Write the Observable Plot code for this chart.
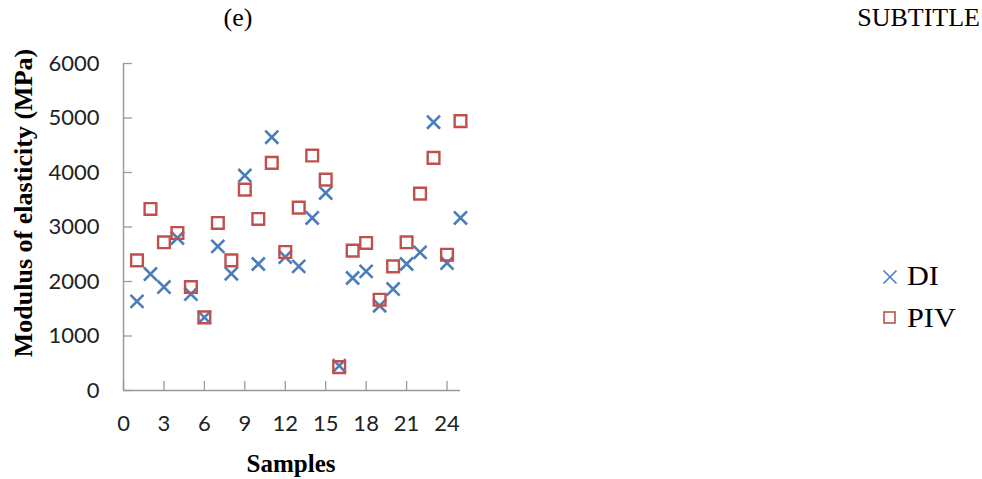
<!DOCTYPE html>
<html>
<head>
<meta charset="utf-8">
<script src="https://cdn.jsdelivr.net/npm/d3@7"></script>
<script src="https://cdn.jsdelivr.net/npm/@observablehq/plot@0.6"></script>
<style>
  html, body { margin: 0; padding: 0; background: #fff; }
  #wrap { position: relative; width: 982px; height: 479px; overflow: hidden; }
  #header { position: relative; height: 34px; }
  .ttl { position: absolute; font-family: "Liberation Serif", serif; font-size: 26px; line-height: 26px; color: #000; white-space: nowrap; }
  .lbl { position: absolute; font-family: "Liberation Serif", serif; font-weight: bold; color: #000; white-space: nowrap; line-height: 1; }
  .leg { position: absolute; font-family: "Liberation Serif", serif; font-size: 27px; line-height: 27px; color: #000; white-space: nowrap; }
  .leg svg { position: absolute; }
  #chart svg { display: block; }
</style>
</head>
<body>
<div id="wrap">
  <div id="header">
    <span class="ttl" style="left:238px; top:5px; transform:translateX(-50%);">(e)</span>
    <span class="ttl" style="right:2px; top:5px;">SUBTITLE</span>
  </div>
  <div id="chart"></div>
  <div class="lbl" style="font-size:26px; left:24px; top:203px; transform:translate(-50%,-50%) rotate(-90deg);">Modulus of elasticity (MPa)</div>
  <div class="lbl" style="font-size:25px; left:291px; top:463px; transform:translate(-50%,-50%);">Samples</div>
  <div id="legend"></div>
</div>
<script>
// ---- data ----
const samples = [1, 2, 3, 4, 5, 6, 7, 8, 9, 10, 11, 12, 13, 14, 15, 16, 17, 18, 19, 20, 21, 22, 23, 24, 25];
const diValues = [1635, 2137, 1898, 2798, 1770, 1341, 2645, 2143, 3944, 2321, 4648, 2449, 2278, 3166, 3625, 453, 2064, 2186, 1555, 1862, 2321, 2535, 4923, 2339, 3166];
const pivValues = [2388, 3331, 2719, 2890, 1898, 1341, 3074, 2388, 3686, 3148, 4176, 2541, 3356, 4311, 3870, 429, 2566, 2707, 1666, 2278, 2719, 3613, 4268, 2492, 4942];
const seriesNames = ["DI", "PIV"];
const xTicks = [0, 3, 6, 9, 12, 15, 18, 21, 24];
const yTicks = [0, 1000, 2000, 3000, 4000, 5000, 6000];

// ---- styles ----
const colors = {DI: "#4a7ebb", PIV: "#c0504d"};
const axisColor = "#9a9a9a";
const W = 982, H = 445;
const mL = 123, mR = 522, mT = 29, mB = 89;
const innerW = W - mL - mR, innerH = H - mT - mB;
const tickLen = 9;

const diData = samples.map((s, i) => ({sample: s, value: diValues[i]}));
const pivData = samples.map((s, i) => ({sample: s, value: pivValues[i]}));

const chart = Plot.plot({
  width: W, height: H,
  marginLeft: mL, marginRight: mR, marginTop: mT, marginBottom: mB,
  style: {fontFamily: "Lato, 'Open Sans', sans-serif", fontSize: "22px", color: "#222", background: "transparent", overflow: "visible"},
  x: {domain: [0, 25]},
  y: {domain: [0, 6000]},
  marks: [
    Plot.axisX(xTicks, {tickSize: 0, tickPadding: 25, label: null, tickFormat: d => String(d), fontSize: 22}),
    Plot.axisY(yTicks, {tickSize: 0, tickPadding: 24, label: null, tickFormat: d => String(d), fontSize: 22}),
    Plot.tickX(xTicks, {x: d => d, insetTop: innerH - tickLen, stroke: axisColor, strokeWidth: 1.3}),
    Plot.tickY(yTicks, {y: d => d, insetRight: innerW - tickLen, stroke: axisColor, strokeWidth: 1.3}),
    Plot.ruleX([0], {stroke: axisColor, strokeWidth: 1.5}),
    Plot.ruleY([0], {stroke: axisColor, strokeWidth: 1.5}),
    Plot.dot(diData, {x: "sample", y: "value", symbol: "times", r: 6, stroke: colors.DI, strokeWidth: 2.6}),
    Plot.dot(pivData, {x: "sample", y: "value", symbol: "square", r: 6.6, stroke: colors.PIV, strokeWidth: 2.4, fill: "none"})
  ]
});
document.getElementById("chart").appendChild(chart);

// ---- legend ----
const legend = document.getElementById("legend");
const legPos = {DI: 276.5, PIV: 318};
seriesNames.forEach(name => {
  const row = document.createElement("div");
  row.className = "leg";
  row.style.left = "876px";
  row.style.top = (legPos[name] - 13.5) + "px";
  row.style.height = "27px";
  const glyph = name === "DI"
    ? `<svg width="16" height="16" style="left:6px; top:5.5px"><path d="M1.5,1.5L14.5,14.5M14.5,1.5L1.5,14.5" stroke="${colors.DI}" stroke-width="1.6" fill="none"/></svg>`
    : `<svg width="16" height="16" style="left:6px; top:5.5px"><rect x="2" y="2" width="11" height="11" stroke="${colors.PIV}" stroke-width="1.6" fill="none"/></svg>`;
  row.innerHTML = glyph + `<span style="position:absolute; left:31px; top:0; display:inline-block; transform:scaleX(1.12); transform-origin:left center;">${name}</span>`;
  legend.appendChild(row);
});
</script>
</body>
</html>
